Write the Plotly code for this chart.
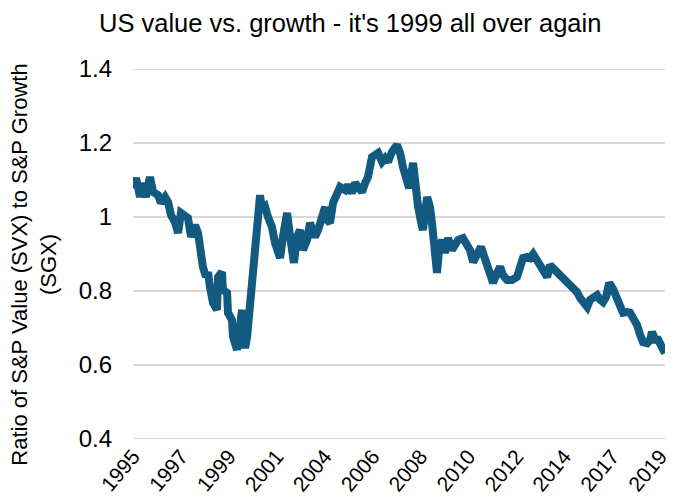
import plotly.graph_objects as go

# Decimal-year positions and ratio values
years = [1995.30, 1995.44, 1995.62, 1995.75, 1995.89, 1996.07, 1996.21, 1996.44, 1996.57, 1996.76,
         1996.89, 1997.03, 1997.21, 1997.35, 1997.48, 1997.67, 1997.80, 1997.94, 1998.12, 1998.26,
         1998.35, 1998.48, 1998.62, 1998.71, 1998.80, 1998.94, 1999.12, 1999.17, 1999.35, 1999.39,
         1999.58, 1999.62, 1999.80, 1999.85, 2000.03, 2000.12, 2000.26, 2000.30, 2000.40, 2000.49,
         2000.62, 2000.71, 2000.76, 2000.85, 2000.94, 2001.08, 2001.17, 2001.31, 2001.44, 2001.62,
         2001.76, 2001.99, 2002.12, 2002.31, 2002.44, 2002.62, 2002.76, 2002.90, 2003.03, 2003.22,
         2003.35, 2003.49, 2003.58, 2003.72, 2003.90, 2004.04, 2004.13, 2004.26, 2004.40, 2004.58,
         2004.72, 2004.95, 2005.08, 2005.26, 2005.40, 2005.54, 2005.72, 2005.86, 2005.99, 2006.17,
         2006.31, 2006.45, 2006.63, 2006.77, 2006.90, 2007.08, 2007.31, 2007.45, 2007.58, 2007.77,
         2007.86, 2008.04, 2008.13, 2008.27, 2008.45, 2008.49, 2008.68, 2008.81, 2008.90, 2008.99,
         2009.13, 2009.22, 2009.36, 2009.49, 2009.63, 2009.81, 2009.95, 2010.09, 2010.31, 2010.50,
         2010.63, 2010.77, 2010.95, 2011.13, 2011.22, 2011.41, 2011.54, 2011.68, 2011.86, 2012.00,
         2012.13, 2012.32, 2012.54, 2012.77, 2012.91, 2013.04, 2013.23, 2013.36, 2013.50, 2013.59,
         2013.73, 2013.95, 2014.14, 2014.27, 2014.41, 2014.59, 2014.73, 2014.86, 2015.05, 2015.18,
         2015.32, 2015.50, 2015.64, 2015.77, 2015.96, 2016.09, 2016.23, 2016.41, 2016.55, 2016.68,
         2016.82, 2016.96, 2017.14, 2017.32, 2017.46, 2017.59, 2017.78, 2017.91, 2018.05, 2018.23,
         2018.37, 2018.50, 2018.69, 2018.82, 2018.91, 2019.05, 2019.19, 2019.37, 2019.50]

ratio = [1.078, 1.105, 1.054, 1.092, 1.054, 1.108, 1.068, 1.059, 1.038, 1.054,
         1.041, 1.005, 0.986, 0.957, 1.011, 1.000, 0.997, 0.946, 0.978, 0.957,
         0.911, 0.865, 0.838, 0.851, 0.811, 0.768, 0.749, 0.838, 0.851, 0.803,
         0.795, 0.741, 0.722, 0.676, 0.641, 0.695, 0.749, 0.676, 0.646, 0.676,
         0.757, 0.830, 0.892, 0.957, 1.000, 1.059, 1.019, 1.027, 1.000, 0.973,
         0.930, 0.889, 0.946, 1.011, 0.950, 0.876, 0.946, 0.965, 0.911, 0.938,
         0.984, 0.965, 0.946, 0.965, 0.992, 1.027, 0.992, 0.984, 1.038, 1.065,
         1.081, 1.073, 1.086, 1.065, 1.092, 1.081, 1.068, 1.092, 1.108, 1.162,
         1.168, 1.173, 1.149, 1.159, 1.149, 1.176, 1.195, 1.173, 1.135, 1.100,
         1.078, 1.146, 1.081, 1.027, 0.973, 0.965, 1.054, 1.027, 0.984, 0.938,
         0.849, 0.911, 0.938, 0.903, 0.943, 0.911, 0.925, 0.938, 0.943, 0.924,
         0.911, 0.878, 0.903, 0.919, 0.903, 0.865, 0.838, 0.822, 0.849, 0.865,
         0.843, 0.830, 0.830, 0.838, 0.865, 0.889, 0.892, 0.889, 0.900, 0.892,
         0.876, 0.857, 0.838, 0.870, 0.862, 0.849, 0.838, 0.835, 0.824, 0.811,
         0.808, 0.797, 0.781, 0.768, 0.757, 0.776, 0.784, 0.789, 0.776, 0.770,
         0.784, 0.822, 0.805, 0.776, 0.757, 0.741, 0.743, 0.741, 0.727, 0.708,
         0.681, 0.662, 0.659, 0.668, 0.689, 0.668, 0.668, 0.649, 0.632]

tick_labels = ["1995", "1997", "1999", "2001", "2004", "2006",
               "2008", "2010", "2012", "2014", "2017", "2019"]
y_ticks = [0.4, 0.6, 0.8, 1.0, 1.2, 1.4]

# Excel-style category axis: labels evenly spaced along the series
start, step = years[0], 2.18
tick_pos = [start + i * step for i in range(len(tick_labels))]

fig = go.Figure()

# horizontal gridlines at the y tick values
for v in y_ticks:
    fig.add_hline(y=v, line=dict(color="#d9d9d9", width=2), layer="below")

fig.add_trace(go.Scatter(
    x=years, y=ratio, mode="lines",
    line=dict(color="#125a80", width=8, shape="linear"),
    showlegend=False, hoverinfo="skip",
))

font_family = "Liberation Sans, Arial, sans-serif"
fig.update_layout(
    width=676, height=499,
    margin=dict(l=133, r=11, t=69, b=60, autoexpand=False),
    paper_bgcolor="white", plot_bgcolor="white",
    font=dict(family=font_family, color="#000000", size=22),
    title=dict(text="US value vs. growth - it's 1999 all over again",
               x=0.518, xanchor="center", y=0.954, yanchor="middle",
               font=dict(size=25.5, color="#000000")),
    xaxis=dict(range=[years[0], years[-1]], tickvals=tick_pos, ticktext=tick_labels,
               tickangle=-50, showgrid=False, zeroline=False, showline=False,
               ticks="", tickfont=dict(size=21)),
    yaxis=dict(range=[0.4, 1.4], tickmode="array", tickvals=y_ticks, showgrid=False,
               zeroline=False, showline=False,
               ticks="", tickfont=dict(size=24), ticklabelstandoff=20),
    annotations=[dict(text="Ratio of S&P Value (SVX) to S&P Growth<br>(SGX)",
                      xref="paper", yref="paper", x=-0.185, y=0.47,
                      xanchor="center", yanchor="middle", textangle=-90,
                      showarrow=False, font=dict(size=22, color="#000000"))],
)

fig.write_html("out.html", config={"displayModeBar": False},
               post_script="document.body.style.margin='0';")
